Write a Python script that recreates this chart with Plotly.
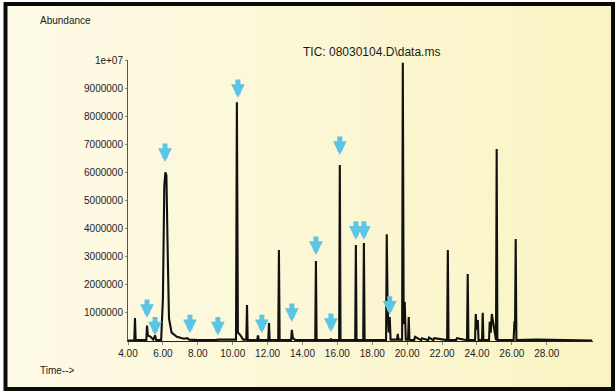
import plotly.graph_objects as go

# ---- data (time in min, abundance in counts) ----
chrom_time = [3.95, 4.36, 4.40, 4.44, 5.05, 5.09, 5.14, 5.30, 5.45, 5.55, 5.62,
              5.90, 6.00, 6.08, 6.14, 6.20, 6.28, 6.35, 6.50, 6.80, 7.20, 7.40, 7.50, 8.00,
              9.00, 9.20, 10.19, 10.24, 10.30, 10.45, 10.60, 10.78, 10.82, 10.86,
              11.40, 11.45, 11.50, 12.04, 12.08, 12.12, 12.61, 12.65, 12.69,
              13.35, 13.39, 13.45, 13.60, 14.73, 14.77, 14.81, 15.59, 15.63, 15.67,
              16.10, 16.14, 16.18, 17.02, 17.06, 17.10, 17.48, 17.52, 17.56,
              18.79, 18.83, 18.88, 18.94, 19.00, 19.05, 19.42, 19.46, 19.50,
              19.71, 19.75, 19.80, 19.86, 19.92, 20.05, 20.09, 20.13,
              20.40, 20.45, 20.80, 20.85, 21.20, 21.25, 21.50, 21.55,
              22.29, 22.33, 22.37, 22.80, 22.85, 23.43, 23.47, 23.51,
              23.89, 23.93, 23.99, 24.05, 24.09, 24.29, 24.33, 24.37,
              24.69, 24.73, 24.79, 24.85, 25.09, 25.13, 25.17,
              26.10, 26.15, 26.18, 26.22, 26.26, 26.80, 26.85, 27.40, 27.45, 30.60]
chrom_abund = [0.02, 0.02, 0.82, 0.03, 0.03, 0.55, 0.20, 0.15, 0.05, 0.20, 0.03,
               0.03, 1.50, 5.50, 6.00, 5.90, 3.00, 0.80, 0.30, 0.15, 0.08, 0.10, 0.05, 0.03,
               0.03, 0.05, 0.05, 8.50, 0.30, 0.20, 0.05, 0.05, 1.28, 0.04,
               0.03, 0.20, 0.03, 0.03, 0.64, 0.03, 0.03, 3.24, 0.03,
               0.03, 0.40, 0.10, 0.03, 0.03, 2.85, 0.03, 0.03, 0.08, 0.03,
               0.03, 6.26, 0.03, 0.03, 3.42, 0.03, 0.03, 3.49, 0.03,
               0.03, 3.80, 1.20, 0.30, 0.85, 0.05, 0.05, 0.25, 0.05,
               0.05, 9.90, 0.60, 1.40, 0.05, 0.05, 0.85, 0.04,
               0.03, 0.15, 0.03, 0.10, 0.03, 0.12, 0.03, 0.10,
               0.03, 3.24, 0.03, 0.03, 0.10, 0.03, 2.38, 0.03,
               0.03, 0.96, 0.40, 0.75, 0.03, 0.03, 1.00, 0.03,
               0.03, 0.68, 0.30, 0.96, 0.03, 6.83, 0.03,
               0.03, 0.70, 0.40, 3.63, 0.03, 0.03, 0.05, 0.03, 0.05, 0.02]
chrom_abund = [v * 1e6 for v in chrom_abund]

# marked peaks (arrow tips)
arrow_time = [5.09, 5.55, 6.12, 7.55, 9.15, 10.30, 11.67, 13.39, 14.77, 15.63,
              16.14, 17.06, 17.52, 19.00, 19.75]
arrow_abund = [0.82, 0.20, 6.37, 0.28, 0.20, 8.65, 0.28, 0.68, 3.06, 0.32,
               6.62, 3.60, 3.60, 0.93, 10.64]
arrow_abund = [v * 1e6 for v in arrow_abund]

x_tickvals = [4, 6, 8, 10, 12, 14, 16, 18, 20, 22, 24, 26, 28]
x_ticktext = ["4.00", "6.00", "8.00", "10.00", "12.00", "14.00", "16.00",
              "18.00", "20.00", "22.00", "24.00", "26.00", "28.00"]
y_tickvals = [1e6, 2e6, 3e6, 4e6, 5e6, 6e6, 7e6, 8e6, 9e6, 1e7]
y_ticktext = ["1000000", "2000000", "3000000", "4000000", "5000000",
              "6000000", "7000000", "8000000", "9000000", "1e+07"]

# ---- layout geometry ----
W, H = 616, 392
ML, MR, MT, MB = 128, 23, 60, 51
PW, PH = W - ML - MR, H - MT - MB


def px(x):
    return (x - ML) / PW


def py(y):
    return (H - MB - y) / PH


FONT = "Liberation Sans, Arial, sans-serif"

fig = go.Figure()
fig.add_trace(go.Scatter(x=chrom_time, y=chrom_abund, mode="lines",
                         line=dict(color="#111111", width=2.1),
                         hoverinfo="skip", showlegend=False))

shapes = []
# cream gradient background inside frame
n = 24
c0 = (253, 250, 230)
c1 = (250, 244, 196)
x_left, x_right = 6, 612
for i in range(n):
    t = i / (n - 1)
    c = tuple(int(round(c0[k] + (c1[k] - c0[k]) * t)) for k in range(3))
    xa = x_left + (x_right - x_left) * i / n
    xb = x_left + (x_right - x_left) * (i + 1) / n + 1
    shapes.append(dict(type="rect", xref="paper", yref="paper",
                       x0=px(xa), x1=px(xb), y0=py(388), y1=py(4),
                       fillcolor="rgb(%d,%d,%d)" % c, line=dict(width=0),
                       layer="below"))
# black frame
shapes.append(dict(type="rect", xref="paper", yref="paper",
                   x0=px(5.5), x1=px(613), y0=py(389), y1=py(4),
                   line=dict(color="#0a0a0a", width=4), fillcolor="rgba(0,0,0,0)",
                   layer="above"))

annotations = []
for t, a in zip(arrow_time, arrow_abund):
    annotations.append(dict(x=t, y=a, xref="x", yref="y", text="",
                            showarrow=True, ax=0, ay=-20, axref="pixel",
                            arrowhead=2, arrowsize=0.55, arrowwidth=5,
                            arrowcolor="#5cc4e4", standoff=0))

annotations += [
    dict(text="Abundance", xref="paper", yref="paper", x=px(38), y=py(21),
         xanchor="left", yanchor="middle", showarrow=False,
         font=dict(family=FONT, size=10, color="#1a1a1a")),
    dict(text="TIC: 08030104.D\\data.ms", xref="paper", yref="paper",
         x=px(371), y=py(52), xanchor="center", yanchor="middle", showarrow=False,
         font=dict(family=FONT, size=12, color="#1a1a1a")),
    dict(text="Time-->", xref="paper", yref="paper", x=px(38), y=py(370),
         xanchor="left", yanchor="middle", showarrow=False,
         font=dict(family=FONT, size=10, color="#1a1a1a")),
]

fig.update_layout(
    width=W, height=H,
    margin=dict(l=ML, r=MR, t=MT, b=MB, pad=0),
    paper_bgcolor="white", plot_bgcolor="rgba(0,0,0,0)",
    shapes=shapes, annotations=annotations, showlegend=False,
    xaxis=dict(range=[4.0, 30.65], tickvals=x_tickvals, ticktext=x_ticktext,
               showgrid=False, zeroline=False, showline=True, linecolor="#222",
               linewidth=1, ticks="outside", ticklen=3, tickcolor="#888",
               tickfont=dict(family=FONT, size=10, color="#222")),
    yaxis=dict(range=[0, 1e7], tickvals=y_tickvals, ticktext=y_ticktext,
               showgrid=False, zeroline=False, showline=True, linecolor="#555",
               linewidth=1, ticks="outside", ticklen=2, tickcolor="#888",
               tickfont=dict(family=FONT, size=10, color="#222")),
)

fig.write_html("out.html", config={"displayModeBar": False},
               post_script="document.body.style.margin='0';document.body.style.padding='0';")
